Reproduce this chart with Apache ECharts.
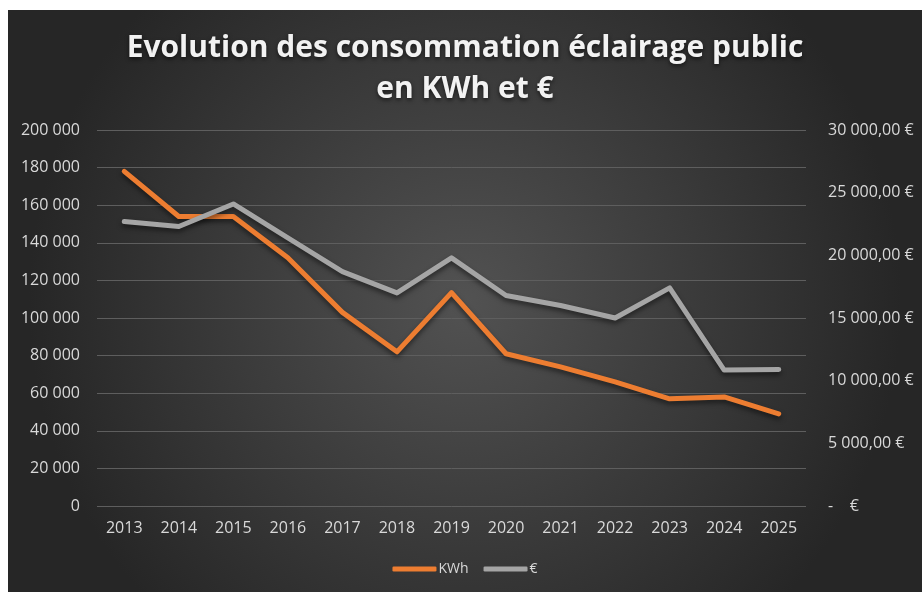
<!DOCTYPE html>
<html lang="fr">
<head>
    <meta charset="UTF-8">
    <title>Evolution des consommation éclairage public</title>
    <script src="https://cdn.jsdelivr.net/npm/echarts@6.0.0/dist/echarts.min.js"></script>
</head>
<body style="margin: 0; background-color: white;">
<div id="chart" style="position: absolute; left: 8px; top: 10px; width: 914px; height: 582px;"></div>

<script>
    // données
    const annees = ['2013', '2014', '2015', '2016', '2017', '2018', '2019', '2020', '2021', '2022', '2023', '2024', '2025'];
    const kwh = [178000, 154000, 154000, 132000, 103000, 82000, 113500, 81000, 74000, 66000, 57000, 58000, 49000];
    const euros = [22700, 22300, 24100, 21400, 18700, 17000, 19800, 16800, 16000, 15000, 17400, 10850, 10900];

    const labelColor = '#d9d9d9';
    const fontName = 'Open Sans';

    // 200000 -> "200 000"
    function milliers(n) {
        return String(Math.round(n)).replace(/\B(?=(\d{3})+(?!\d))/g, ' ');
    }

    function formatEuro(v) {
        if (v === 0) return '-    €';
        return milliers(v) + ',00 €';
    }

    const myChart = echarts.init(document.getElementById('chart'));

    const lineShadow = { shadowColor: 'rgba(0,0,0,0.5)', shadowBlur: 5, shadowOffsetY: 3 };

    const option = {
        backgroundColor: {
            type: 'radial', x: 0.5, y: 0.5, r: 0.75,
            colorStops: [
                { offset: 0, color: '#525252' },
                { offset: 1, color: '#262626' }
            ]
        },
        title: {
            text: 'Evolution des consommation éclairage public\nen KWh et €',
            left: 'center',
            top: 13,
            textStyle: {
                color: '#f2f2f2',
                fontFamily: fontName,
                fontWeight: 'bold',
                fontSize: 30,
                lineHeight: 41,
                textShadowColor: 'rgba(0,0,0,0.6)',
                textShadowBlur: 4,
                textShadowOffsetY: 2
            }
        },
        legend: {
            bottom: 11,
            left: 'center',
            icon: 'roundRect',
            itemWidth: 44,
            itemHeight: 5,
            itemGap: 15,
            textStyle: { color: labelColor, fontFamily: fontName, fontSize: 14, padding: [0, 0, 0, -3] },
            data: ['KWh', '€']
        },
        grid: {
            left: 89,
            right: 116,
            top: 120,
            bottom: 86,
            containLabel: false
        },
        xAxis: {
            type: 'category',
            data: annees,
            boundaryGap: true,
            axisLine: { show: false },
            axisTick: { show: false },
            axisLabel: { color: labelColor, fontFamily: fontName, fontSize: 16, margin: 14 }
        },
        yAxis: [
            {
                type: 'value',
                min: 0,
                max: 200000,
                interval: 20000,
                axisLine: { show: false },
                axisTick: { show: false },
                splitLine: { lineStyle: { color: '#5e5e5e', width: 1 } },
                axisLabel: {
                    color: labelColor, fontFamily: fontName, fontSize: 16, margin: 17,
                    formatter: milliers
                }
            },
            {
                type: 'value',
                min: 0,
                max: 30000,
                interval: 5000,
                position: 'right',
                axisLine: { show: false },
                axisTick: { show: false },
                splitLine: { show: false },
                axisLabel: {
                    color: labelColor, fontFamily: fontName, fontSize: 16, margin: 22,
                    formatter: formatEuro
                }
            }
        ],
        series: [
            {
                name: 'KWh',
                type: 'line',
                data: kwh,
                symbol: 'none',
                color: '#ED7D31',
                lineStyle: Object.assign({ width: 5, cap: 'round', join: 'round' }, lineShadow)
            },
            {
                name: '€',
                type: 'line',
                yAxisIndex: 1,
                data: euros,
                symbol: 'none',
                color: '#A5A5A5',
                lineStyle: Object.assign({ width: 5, cap: 'round', join: 'round' }, lineShadow)
            }
        ]
    };

    myChart.setOption(option);
</script>
</body>
</html>
